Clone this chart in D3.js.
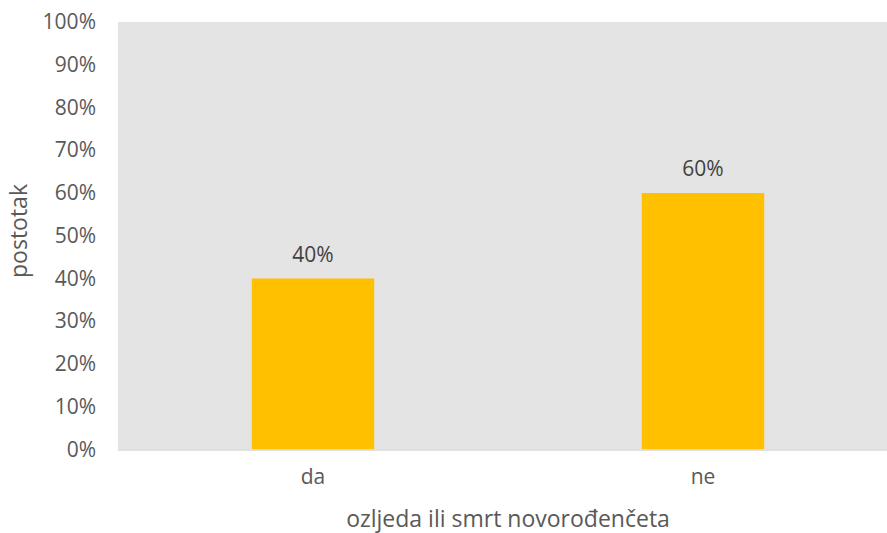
<!DOCTYPE html>
<html>
<head>
<meta charset="utf-8">
<script src="https://cdn.jsdelivr.net/npm/d3@7"></script>
<style>
  body { margin: 0; background: #fff; }
  svg text { font-family: "Open Sans", sans-serif; }
</style>
</head>
<body>
<svg id="chart"></svg>
<script>
// data
var categories = ['da', 'ne'];
var values = [40, 60];
var yTicks = [0, 10, 20, 30, 40, 50, 60, 70, 80, 90, 100];

var width = 887;
var height = 533;
var plotLeft = 118, plotRight = 898, plotTop = 22, plotBottom = 449.5;

var svg = d3.select('#chart')
    .attr('width', width)
    .attr('height', height);

// plot background
svg.append('rect')
    .attr('x', plotLeft)
    .attr('y', plotTop)
    .attr('width', plotRight - plotLeft)
    .attr('height', plotBottom - plotTop)
    .attr('fill', '#e4e4e4');

var xScale = d3.scaleBand()
    .domain(categories)
    .range([plotLeft, plotRight])
    .paddingInner(0.686)
    .paddingOuter(0.343);

var yScale = d3.scaleLinear()
    .domain([0, 100])
    .range([plotBottom, plotTop]);

// bars
svg.selectAll('.bar')
    .data(categories)
    .enter()
    .append('rect')
    .attr('class', 'bar')
    .attr('x', d => xScale(d))
    .attr('y', (d, i) => yScale(values[i]))
    .attr('width', xScale.bandwidth())
    .attr('height', (d, i) => plotBottom - yScale(values[i]))
    .attr('fill', '#ffc000');

// data labels
svg.selectAll('.label')
    .data(categories)
    .enter()
    .append('text')
    .attr('class', 'label')
    .attr('x', d => xScale(d) + xScale.bandwidth() / 2)
    .attr('y', (d, i) => yScale(values[i]) - 17)
    .attr('text-anchor', 'middle')
    .attr('font-size', 21)
    .attr('fill', '#404040')
    .text((d, i) => values[i] + '%');

// x axis line
svg.append('line')
    .attr('x1', plotLeft)
    .attr('x2', plotRight)
    .attr('y1', plotBottom + 0.5)
    .attr('y2', plotBottom + 0.5)
    .attr('stroke', '#d9d9d9')
    .attr('stroke-width', 1.5);

// y axis
var yAxis = d3.axisLeft(yScale)
    .tickValues(yTicks)
    .tickSize(0)
    .tickPadding(22)
    .tickFormat(d => d + '%');
var yg = svg.append('g')
    .attr('transform', `translate(${plotLeft}, 0)`)
    .call(yAxis);
yg.select('.domain').remove();
yg.selectAll('text')
    .attr('font-family', '"Open Sans", sans-serif')
    .attr('font-size', 21)
    .attr('fill', '#595959');

// x axis
var xAxis = d3.axisBottom(xScale).tickSize(0).tickPadding(20);
var xg = svg.append('g')
    .attr('transform', `translate(0, ${plotBottom})`)
    .call(xAxis);
xg.select('.domain').remove();
xg.selectAll('text')
    .attr('font-family', '"Open Sans", sans-serif')
    .attr('font-size', 21)
    .attr('fill', '#595959');

// axis titles
svg.append('text')
    .attr('x', (plotLeft + plotRight) / 2)
    .attr('y', 527)
    .attr('text-anchor', 'middle')
    .attr('font-size', 23)
    .attr('fill', '#595959')
    .text('ozljeda ili smrt novorođenčeta');

svg.append('text')
    .attr('transform', `translate(27, 231) rotate(-90)`)
    .attr('text-anchor', 'middle')
    .attr('font-size', 23)
    .attr('fill', '#595959')
    .text('postotak');
</script>
</body>
</html>
